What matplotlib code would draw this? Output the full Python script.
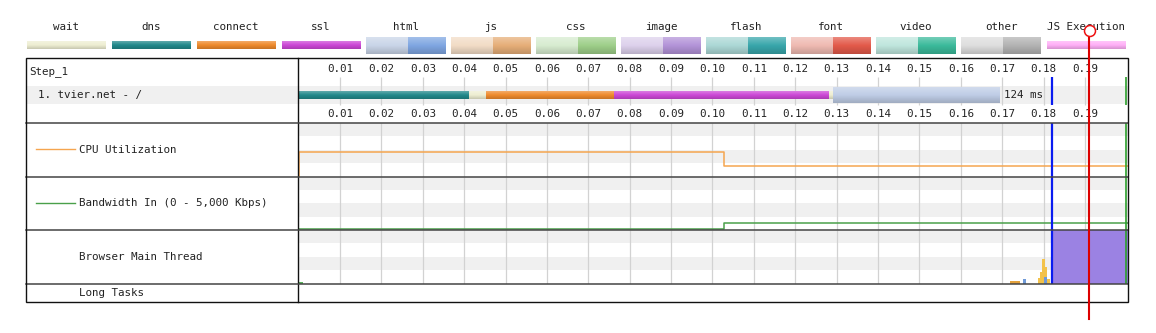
import numpy as np
import matplotlib
matplotlib.use("Agg")
import matplotlib.pyplot as plt
from matplotlib.colors import to_rgb
from matplotlib.patches import Rectangle, Circle

# ---------------- data ----------------
legend_names = ["wait", "dns", "connect", "ssl", "html", "js", "css", "image",
                "flash", "font", "video", "other", "JS Execution"]
legend_light = ["#eeeed2", "#22898b", "#ef8a2c", "#cc48d6", "#c9d5e8", "#f2dcc6",
                "#d7ecd0", "#ddd1ec", "#acd8d6", "#efbab2", "#bfe6dd", "#dedede", "#ffb0f7"]
legend_dark = [None, None, None, None, "#7fa6e2", "#e6ae78", "#9ecf89", "#b393d8",
               "#38a6ab", "#e35a4a", "#3bba9b", "#b3b3b3", None]

step_label = "Step_1"
request_label = "1. tvier.net - /"

# request phases (seconds)
phase_kind = ["dns", "wait", "connect", "ssl", "wait", "html"]
phase_start = [0.0, 0.0412, 0.0452, 0.0762, 0.1282, 0.1290]
phase_end = [0.0412, 0.0452, 0.0762, 0.1282, 0.1290, 0.1692]
request_ms = 124

ticks = [0.01, 0.02, 0.03, 0.04, 0.05, 0.06, 0.07, 0.08, 0.09, 0.10,
         0.11, 0.12, 0.13, 0.14, 0.15, 0.16, 0.17, 0.18, 0.19]
t_end = 0.2003
dom_event = 0.1821
load_event = 0.2000

cpu_time = [0.0, 0.0, 0.1029, t_end]
cpu_pct = [0.0, 45.0, 19.0, 19.0]

bw_time = [0.0, 0.1029, t_end]
bw_kbps = [100.0, 630.0, 630.0]

mt_start = [0.0, 0.1718, 0.1750, 0.1787, 0.1792, 0.1797, 0.1804, 0.1809, 0.1802, 0.1823]
mt_end = [0.0010, 0.1742, 0.1758, 0.1792, 0.1797, 0.1804, 0.1809, 0.1816, 0.1809, t_end]
mt_pct = [4.0, 5.0, 8.0, 10.0, 22.0, 46.0, 32.0, 8.0, 13.0, 100.0]
mt_kind = ["other", "parse", "layout", "script", "script", "script", "script",
           "script", "layout", "js"]

section_names = ["CPU Utilization", "Bandwidth In (0 - 5,000 Kbps)",
                 "Browser Main Thread", "Long Tasks"]

# ---------------- styling ----------------
W, H = 1156, 333
FONT = "DejaVu Sans Mono"
FS = 7.8
TXT = "#222222"
STRIPE = "#f0f0f0"
GRID = "#d2d2d2"

phase_color = {"dns": "#22898b", "wait": "#eeeed2", "connect": "#ef8a2c",
               "ssl": "#cc48d6", "html": "#bfcde6"}
mt_color = {"other": "#5ab35a", "parse": "#e4a23c", "layout": "#6f9ad8",
            "script": "#f3c24a", "js": "#9b82e3"}

X0, X1 = 298.6, 1127.6           # pixel span of the timeline
LEFT, RIGHT = 25.7, 1128.0
TOP, BOTTOM = 57.5, 302.0
ROW_BOTTOM = 122.7
SEC = [122.7, 176.7, 230.0, 283.7, 302.0]


def shade(color, f):
    r, g, b = to_rgb(color)
    if f >= 0:
        return tuple(c + (1 - c) * f for c in (r, g, b))
    return tuple(c * (1 + f) for c in (r, g, b))


def grad_rect(ax, x0, x1, y_top, y_bot, color, zorder=3):
    n = 24
    v = np.linspace(0, 1, n)
    cols = [shade(color, 0.28 * (1 - 2 * a)) if a < 0.5 else shade(color, -0.16 * (2 * a - 1))
            for a in v]
    img = np.array(cols).reshape(n, 1, 3)
    ax.imshow(img, extent=(x0, x1, y_bot, y_top), aspect="auto", origin="upper",
              interpolation="bilinear", zorder=zorder)


fig = plt.figure(figsize=(W / 100, H / 100), dpi=100)
fig.patch.set_facecolor("white")

# background / layout layer in pixel units
bg = fig.add_axes([0, 0, 1, 1])
bg.axis("off")

# legend
for i, name in enumerate(legend_names):
    cx = 66 + 85 * i
    bg.text(cx, 27, name, ha="center", va="center", fontsize=FS, family=FONT, color=TXT)
    if legend_dark[i] is None:
        grad_rect(bg, cx - 39.5, cx + 39.5, 41.7, 49.3, legend_light[i])
    else:
        grad_rect(bg, cx - 40, cx + 2, 37.3, 54.0, legend_light[i])
        grad_rect(bg, cx + 2, cx + 40, 37.3, 54.0, legend_dark[i])

# request row band and left labels
bg.add_patch(Rectangle((LEFT, 86), RIGHT - LEFT, 18, facecolor=STRIPE, edgecolor="none", zorder=1))
bg.text(29, 72, step_label, ha="left", va="center", fontsize=FS, family=FONT, color=TXT)
bg.text(38, 95.3, request_label, ha="left", va="center", fontsize=FS, family=FONT, color=TXT)

sec_line = ["#f5a54f", "#4aa04a", None, None]
sec_text_y = [150, 203.5, 257, 293.5]
for name, col, ty in zip(section_names, sec_line, sec_text_y):
    bg.text(79, ty, name, ha="left", va="center", fontsize=FS, family=FONT, color=TXT)
    if col:
        bg.plot([36, 75], [ty - 0.7, ty - 0.7], color=col, lw=1.0)
bg.set_xlim(0, W)
bg.set_ylim(H, 0)


def timeline_axes(top, bottom):
    ax = fig.add_axes([X0 / W, 1 - bottom / H, (X1 - X0) / W, (bottom - top) / H])
    ax.set_xlim(0, t_end)
    ax.axis("off")
    return ax


# ---- request waterfall ----
req = timeline_axes(TOP, ROW_BOTTOM)
req.vlines(ticks, 77, 105, color=GRID, lw=0.9, zorder=2)
for t in ticks:
    req.text(t, 69, f"{t:.2f}", ha="center", va="center", fontsize=FS, family=FONT, color=TXT)
    req.text(t, 113.5, f"{t:.2f}", ha="center", va="center", fontsize=FS, family=FONT, color=TXT)
for kind, s, e in zip(phase_kind, phase_start, phase_end):
    if kind == "html":
        grad_rect(req, s, e, 87.3, 103.3, phase_color[kind], zorder=3)
    else:
        grad_rect(req, s, e, 91.0, 98.7, phase_color[kind], zorder=3)
req_end = phase_start[2] + request_ms / 1000
req.text(req_end + 0.0012, 95.3, f"{request_ms} ms", ha="left", va="center",
         fontsize=FS, family=FONT, color=TXT)
req.vlines([dom_event], 77, 105, color="#0a1cf0", lw=1.6, zorder=4)
req.vlines([load_event], 77, 105, color="#2ca02c", lw=1.2, zorder=4)
req.set_xlim(0, t_end)
req.set_ylim(ROW_BOTTOM, TOP)


def section_axes(i, ymax):
    ax = timeline_axes(SEC[i], SEC[i + 1])
    ax.set_ylim(0, ymax)
    ax.axhspan(0.75 * ymax, ymax, color=STRIPE, lw=0, zorder=0)
    ax.axhspan(0.25 * ymax, 0.5 * ymax, color=STRIPE, lw=0, zorder=0)
    ax.vlines(ticks, 0, ymax, color=GRID, lw=0.9, zorder=1)
    ax.vlines([load_event], 0, ymax, color="#2ca02c", lw=1.2, zorder=4)
    ax.vlines([dom_event], 0, ymax, color="#0a1cf0", lw=1.6, zorder=4)
    return ax


cpu = section_axes(0, 100)
cpu.plot(cpu_time, cpu_pct, drawstyle="steps-post", color="#f5a54f", lw=1.1, zorder=3)

bw = section_axes(1, 5000)
bw.plot(bw_time, bw_kbps, drawstyle="steps-post", color="#4aa04a", lw=1.1, zorder=3)

mt = section_axes(2, 100)
for s, e, p, k in zip(mt_start, mt_end, mt_pct, mt_kind):
    mt.bar(s, p, width=e - s, align="edge", color=mt_color[k], lw=0, zorder=3)

lt = timeline_axes(SEC[3], SEC[4])

# frame and cursor overlay in pixel units
top = fig.add_axes([0, 0, 1, 1])
top.axis("off")
top.patch.set_alpha(0)
top.add_patch(Rectangle((LEFT, TOP), RIGHT - LEFT, BOTTOM - TOP, fill=False,
                        edgecolor="#111111", lw=1.0, zorder=5))
top.plot([298.3, 298.3], [TOP, BOTTOM], color="#111111", lw=1.0)
for y in SEC[:-1]:
    top.plot([LEFT, RIGHT], [y, y], color="#444444", lw=1.1)
top.plot([1089, 1089], [36.5, 319], color="#dd0000", lw=1.5, zorder=6)
top.add_patch(Circle((1090, 31), 5.5, facecolor="white", edgecolor="#ee1111", lw=1.1, zorder=7))
top.set_xlim(0, W)
top.set_ylim(H, 0)

fig.savefig("out.png", dpi=100, facecolor="white")
